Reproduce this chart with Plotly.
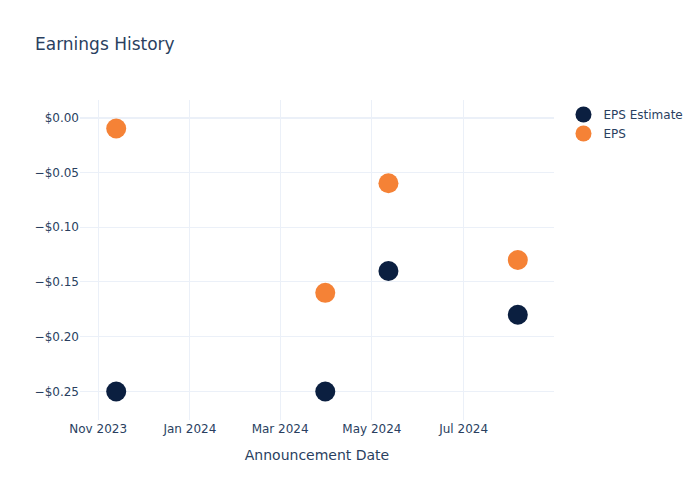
import plotly.graph_objects as go

dates = ["2023-11-13", "2024-03-31", "2024-05-12", "2024-08-06"]
eps_estimate = [-0.25, -0.25, -0.14, -0.18]
eps_actual = [-0.01, -0.16, -0.06, -0.13]

fig = go.Figure()
fig.add_trace(go.Scatter(x=dates, y=eps_estimate, mode="markers", name="EPS Estimate",
                         marker=dict(color="#0b1f40", size=20)))
fig.add_trace(go.Scatter(x=dates, y=eps_actual, mode="markers", name="EPS",
                         marker=dict(color="#f58236", size=20)))
fig.update_layout(
    template="plotly_white",
    width=700, height=500,
    font=dict(family="DejaVu Sans"),
    title=dict(text="Earnings History"),
    xaxis=dict(title=dict(text="Announcement Date")),
    yaxis=dict(tickformat="$.2f"),
)
fig.write_html("out.html")
